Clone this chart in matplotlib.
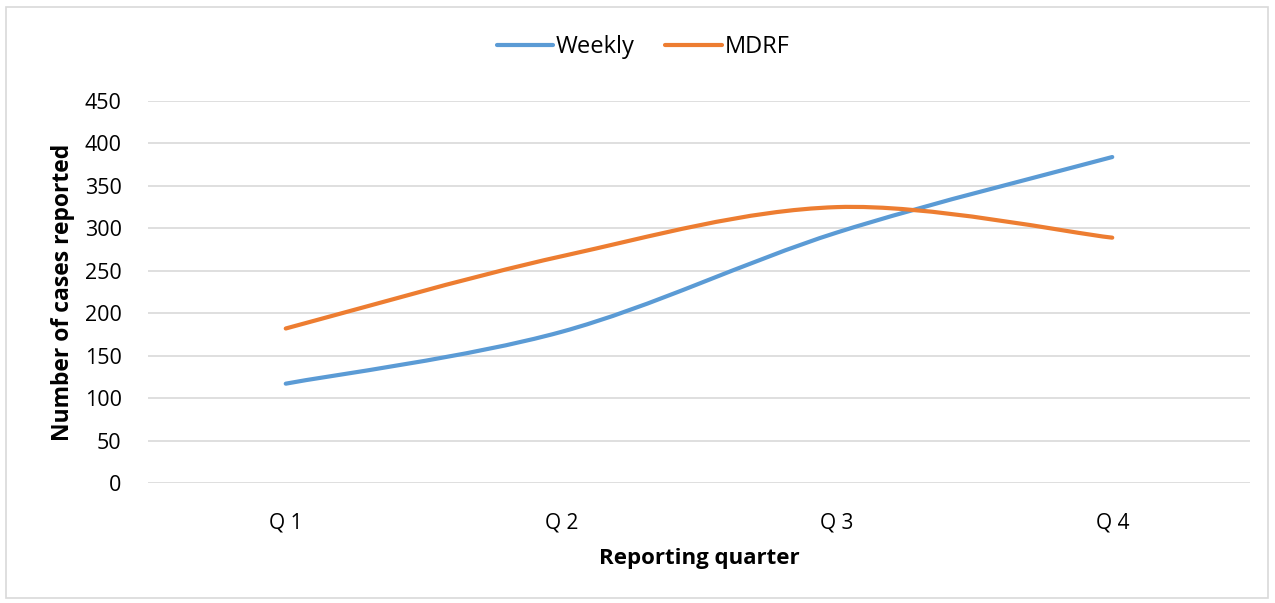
import numpy as np
import matplotlib.pyplot as plt
from matplotlib.path import Path
from matplotlib.patches import PathPatch, Rectangle
from matplotlib.lines import Line2D

quarters = ["Q 1", "Q 2", "Q 3", "Q 4"]
weekly = [117, 178, 295, 384]
mdrf = [182, 267, 325, 289]
yticks = [0, 50, 100, 150, 200, 250, 300, 350, 400, 450]

plt.rcParams['font.family'] = ['Open Sans', 'DejaVu Sans']

def smooth_path(xs, ys):
    # excel-style bezier smoothing through the points
    p = np.column_stack([xs, ys]).astype(float)
    ext = np.vstack([p[0], p, p[-1]])
    verts = [p[0]]
    codes = [Path.MOVETO]
    for i in range(len(p) - 1):
        a, b, c, d = ext[i], ext[i + 1], ext[i + 2], ext[i + 3]
        verts += [b + (c - a) / 6, c - (d - b) / 6, c]
        codes += [Path.CURVE4] * 3
    return Path(verts, codes)

fig = plt.figure(figsize=(12.75, 6.03), dpi=100)
ax = fig.add_axes([148/1275, 1 - 483/603, 1102/1275, 382/603])

x = np.arange(len(quarters))
blue = '#5b9bd5'
orange = '#ed7d31'
for ys, col in [(weekly, blue), (mdrf, orange)]:
    patch = PathPatch(smooth_path(x, ys), facecolor='none', edgecolor=col,
                      lw=3, capstyle='round', joinstyle='round', zorder=3)
    ax.add_patch(patch)

ax.set_xlim(-0.5, 3.5)
ax.set_ylim(0, 450)
ax.set_yticks(yticks)
ax.set_xticks(x)
ax.set_xticklabels(quarters)
ax.grid(axis='y', color='#d9d9d9', lw=1.2)
ax.set_axisbelow(True)
for s in ax.spines.values():
    s.set_visible(False)
ax.tick_params(axis='y', length=0, labelsize=15.5, pad=19)
ax.tick_params(axis='x', length=0, labelsize=15, pad=21)
ax.set_ylabel("Number of cases reported", fontsize=16.5, fontweight='bold', labelpad=7)
ax.set_xlabel("Reporting quarter", fontsize=16, fontweight='bold', labelpad=11)

handles = [Line2D([], [], color=blue, lw=3, solid_capstyle='round'),
           Line2D([], [], color=orange, lw=3, solid_capstyle='round')]
fig.legend(handles, ["Weekly", "MDRF"], loc='center', bbox_to_anchor=(643/1275, 1 - 47/603),
           ncol=2, frameon=False, fontsize=17, handlelength=2.4, handletextpad=0.1,
           columnspacing=1.3)

fig.patches.append(Rectangle((6/1275, 5/603), 1262/1275, 591/603, transform=fig.transFigure,
                             fill=False, edgecolor='#d9d9d9', lw=1.2))

fig.savefig('out.png', dpi=100)
